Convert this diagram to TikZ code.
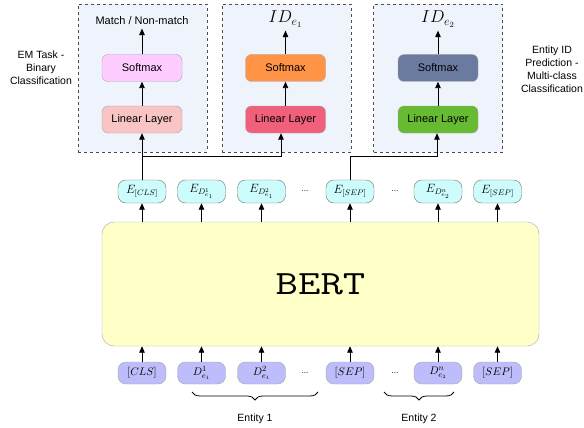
\documentclass[tikz,border=0pt]{standalone}
\usepackage{fontspec}
\setmainfont{Liberation Sans}
\usepackage{amsmath}
\usetikzlibrary{positioning,arrows.meta,decorations.pathreplacing}
\definecolor{PanelFill}{HTML}{EEF3FC}
\definecolor{SoftPink}{HTML}{FFCCFF}
\definecolor{LinRose}{HTML}{F8C4C4}
\definecolor{SoftOrange}{HTML}{FF9447}
\definecolor{LinRed}{HTML}{F0607A}
\definecolor{SoftSlate}{HTML}{6B7BA0}
\definecolor{LinGreen}{HTML}{66BB33}
\definecolor{EmbCyan}{HTML}{CCFCFC}
\definecolor{TokLilac}{HTML}{BDBDFB}
\definecolor{BertYellow}{HTML}{FFFFC8}
\tikzset{
  panel/.style={draw=black!70,dashed,fill=PanelFill,minimum width=129pt,minimum height=148pt,inner sep=0pt},
  layerbox/.style={draw=black!35,rounded corners=6pt,minimum width=80pt,minimum height=27pt,inner sep=0pt,font=\fontsize{11}{12}\selectfont},
  embbox/.style={draw=black!55,fill=EmbCyan,rounded corners=8pt,minimum width=48pt,minimum height=23pt,inner sep=0pt,font=\fontsize{12}{12}\selectfont},
  tokbox/.style={draw=black!35,fill=TokLilac,rounded corners=8pt,minimum width=48pt,minimum height=22pt,inner sep=0pt,font=\fontsize{11}{12}\selectfont},
  bertbox/.style={draw=black!35,fill=BertYellow,rounded corners=12pt,minimum width=437pt,minimum height=124pt,inner sep=0pt},
  sidenote/.style={align=center,font=\fontsize{10.5}{13}\selectfont},
  dotsnote/.style={font=\fontsize{8}{10}\selectfont},
  flow/.style={-{Triangle[length=6.5pt,width=5.5pt]},draw=black,line width=0.9pt},
  entbrace/.style={decorate,decoration={brace,mirror,amplitude=8pt},draw=black,line width=0.8pt}
}
\begin{document}
\begin{tikzpicture}[x=1pt,y=-1pt]
  \useasboundingbox (0,0) rectangle (584,428);
  % task heads
  \node[panel] (panelem) at (142.5,78) {};
  \node[panel] (panelidone) at (286.5,78) {};
  \node[panel] (panelidtwo) at (438,78) {};
  \node[layerbox,fill=LinRose] (linem) at (142,119.5) {Linear Layer};
  \node[layerbox,fill=SoftPink] (softem) at (142,68) {Softmax};
  \node[font=\fontsize{11}{12}\selectfont] (outem) at (142,21) {Match / Non-match};
  \node[layerbox,fill=LinRed] (linidone) at (285.5,119.5) {Linear Layer};
  \node[layerbox,fill=SoftOrange] (softidone) at (285.5,68) {Softmax};
  \node[font=\fontsize{17}{18}\selectfont] (outidone) at (285.5,19) {$ID_{e_1}$};
  \node[layerbox,fill=LinGreen] (linidtwo) at (438,119.5) {Linear Layer};
  \node[layerbox,fill=SoftSlate] (softidtwo) at (438,68) {Softmax};
  \node[font=\fontsize{17}{18}\selectfont] (outidtwo) at (438,19) {$ID_{e_2}$};
  \node[sidenote] (noteem) at (41,68) {EM Task -\\Binary\\Classification};
  \node[sidenote] (noteid) at (552,69) {Entity ID\\Prediction -\\Multi-class\\Classification};
  % embeddings
  \node[embbox] (ecls) at (142,191.5) {$E_{[CLS]}$};
  \node[embbox] (edone) at (201.5,191.5) {$E_{D^1_{e_1}}$};
  \node[embbox] (edtwo) at (261.5,191.5) {$E_{D^2_{e_1}}$};
  \node[dotsnote] (edots) at (305,191.5) {...};
  \node[embbox] (esep) at (350,191.5) {$E_{[SEP]}$};
  \node[dotsnote] (edotsb) at (395,191.5) {...};
  \node[embbox] (edn) at (438,191.5) {$E_{D^n_{e_2}}$};
  \node[embbox] (esepend) at (497.5,191.5) {$E_{[SEP]}$};
  % encoder
  \node[bertbox] (bert) at (320.5,284) {\ttfamily\fontsize{34}{34}\selectfont\scalebox{1.28}[1]{BERT}};
  % input tokens
  \node[tokbox] (tcls) at (142,373) {$[CLS]$};
  \node[tokbox] (tdone) at (201.5,373) {$D^1_{e_1}$};
  \node[tokbox] (tdtwo) at (261.5,373) {$D^2_{e_1}$};
  \node[dotsnote] (tdots) at (305,373) {...};
  \node[tokbox] (tsep) at (350,373) {$[SEP]$};
  \node[dotsnote] (tdotsb) at (395,373) {...};
  \node[tokbox] (tdn) at (438,373) {$D^n_{e_2}$};
  \node[tokbox] (tsepend) at (497.5,373) {$[SEP]$};
  % entity spans
  \coordinate (entonea) at (192,392);
  \coordinate (entoneb) at (318,392);
  \coordinate (enttwoa) at (384,392);
  \coordinate (enttwob) at (454,392);
  \draw[entbrace] (entonea) -- (entoneb);
  \draw[entbrace] (enttwoa) -- (enttwob);
  \node[font=\fontsize{10.5}{12}\selectfont] (entone) at (255,419) {Entity 1};
  \node[font=\fontsize{10.5}{12}\selectfont] (enttwo) at (419,419) {Entity 2};
  % arrows
  \draw[flow] (linem) -- (softem);
  \draw[flow] (softem) -- (outem);
  \draw[flow] (linidone) -- (softidone);
  \draw[flow] (softidone) -- (outidone);
  \draw[flow] (linidtwo) -- (softidtwo);
  \draw[flow] (softidtwo) -- (outidtwo);
  \draw[flow] (ecls.north) -- (linem.south);
  \draw[flow] (ecls.north) -- ++(0,-23) -| ([xshift=-4.5pt]linidone.south);
  \draw[flow] (esep.north) -- ++(0,-23) -| ([xshift=-1pt]linidtwo.south);
  \draw[flow] (tcls) -- (tcls |- bert.south);
  \draw[flow] (tdone) -- (tdone |- bert.south);
  \draw[flow] (tdtwo) -- (tdtwo |- bert.south);
  \draw[flow] (tsep) -- (tsep |- bert.south);
  \draw[flow] (tdn) -- (tdn |- bert.south);
  \draw[flow] (tsepend) -- (tsepend |- bert.south);
  \draw[flow] (ecls |- bert.north) -- (ecls);
  \draw[flow] (edone |- bert.north) -- (edone);
  \draw[flow] (edtwo |- bert.north) -- (edtwo);
  \draw[flow] (esep |- bert.north) -- (esep);
  \draw[flow] (edn |- bert.north) -- (edn);
  \draw[flow] (esepend |- bert.north) -- (esepend);
\end{tikzpicture}
\end{document}
